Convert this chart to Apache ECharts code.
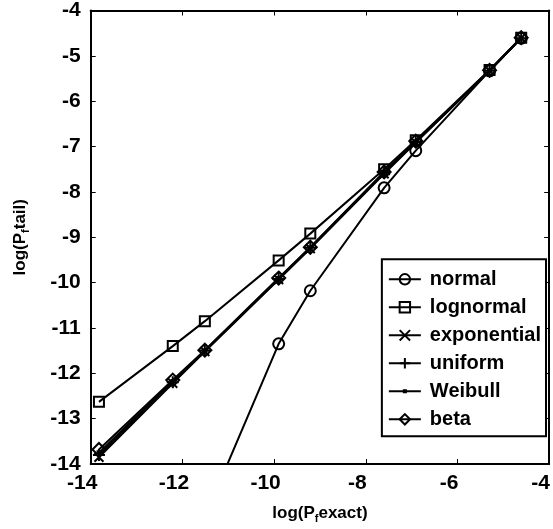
<!DOCTYPE html>
<html>
<head>
<meta charset="utf-8">
<script src="https://cdn.jsdelivr.net/npm/echarts@6/dist/echarts.min.js"></script>
<style>
    html, body { margin: 0; padding: 0; background: #fff; }
    #chart { width: 553px; height: 529px; }
</style>
</head>
<body>
<div id="chart"></div>
<script>
// ---------------------- 数据 ----------------------
const pfExact = [-13.82, -12.21, -11.51, -9.90, -9.21, -7.60, -6.91, -5.30, -4.61];
const normalVals      = [null, null, -15.17, -11.35, -10.18, -7.91, -7.09, -5.33, -4.61];
const lognormalVals   = [-12.63, -11.40, -10.85, -9.51, -8.92, -7.50, -6.86, -5.31, -4.60];
const exponentialVals = [-13.85, -12.22, -11.52, -9.93, -9.25, -7.60, -6.91, -5.33, -4.61];
const uniformVals     = [-13.80, -12.20, -11.50, -9.92, -9.23, -7.58, -6.90, -5.33, -4.61];
const weibullVals     = [-13.75, -12.18, -11.50, -9.91, -9.23, -7.57, -6.89, -5.33, -4.61];
const betaVals        = [-13.68, -12.15, -11.49, -9.90, -9.22, -7.56, -6.88, -5.32, -4.60];
const xTicks = [-14, -12, -10, -8, -6, -4];
const yTicks = [-14, -13, -12, -11, -10, -9, -8, -7, -6, -5, -4];

const FONT = "'Liberation Sans', Arial, sans-serif";

// 小圆点：两个空的 moveTo 撑大包围盒，让点在图例里也保持很小
const DOT = 'path://M0,0L0,0M10,10L10,10M4,4L6,4L6,6L4,6Z';

function pairs(vals) {
    return pfExact.map((x, i) => [x, vals[i]]);
}

// 每条曲线的样式
function makeSeries(name, vals, symbol, size, filled) {
    return {
        name: name,
        type: 'line',
        data: pairs(vals),
        symbol: symbol,
        symbolSize: size,
        showAllSymbol: true,
        clip: true,
        lineStyle: { color: '#000', width: 2 },
        itemStyle: {
            color: filled ? '#000' : 'rgba(0,0,0,0)',
            borderColor: '#000',
            borderWidth: 2
        },
        emphasis: { disabled: true }
    };
}

const chart = echarts.init(document.getElementById('chart'));

const subRich = {
    sub: { fontSize: 11, fontWeight: 'bold', fontFamily: FONT, padding: [11, 0, 0, 0] }
};

chart.setOption({
    animation: false,
    backgroundColor: '#fff',
    grid: { left: 90.7, top: 9.3, right: 1, bottom: 57.3 },
    xAxis: [
        {
            type: 'value', min: -14, max: -4, interval: 2,
            name: 'log(P{sub|f}exact)',
            nameLocation: 'middle', nameGap: 38,
            nameTextStyle: { fontSize: 17, fontWeight: 'bold', fontFamily: FONT, color: '#000', rich: subRich },
            axisLine: { lineStyle: { color: '#000', width: 2 } },
            axisTick: { inside: true, length: 5, lineStyle: { color: '#000', width: 1 } },
            axisLabel: {
                fontSize: 21, fontWeight: 'bold', fontFamily: FONT, color: '#000',
                margin: 9, padding: [0, 17, 0, 0],
                formatter: v => xTicks.includes(v) ? String(v) : ''
            },
            splitLine: { show: false }
        },
        {
            type: 'value', min: -14, max: -4, interval: 2, position: 'top',
            axisLine: { lineStyle: { color: '#000', width: 2 } },
            axisTick: { inside: true, length: 5, lineStyle: { color: '#000', width: 1 } },
            axisLabel: { show: false },
            splitLine: { show: false }
        }
    ],
    yAxis: [
        {
            type: 'value', min: -14, max: -4, interval: 1,
            name: 'log(P{sub|f}tail)',
            nameLocation: 'middle', nameGap: 59, nameRotate: 90,
            nameTextStyle: { fontSize: 17, fontWeight: 'bold', fontFamily: FONT, color: '#000', rich: subRich },
            axisLine: { lineStyle: { color: '#000', width: 2 } },
            axisTick: { inside: true, length: 5, lineStyle: { color: '#000', width: 1 } },
            axisLabel: {
                fontSize: 21, fontWeight: 'bold', fontFamily: FONT, color: '#000', margin: 10,
                formatter: v => yTicks.includes(v) ? String(v) : ''
            },
            splitLine: { show: false }
        },
        {
            type: 'value', min: -14, max: -4, interval: 1, position: 'right',
            axisLine: { lineStyle: { color: '#000', width: 2 } },
            axisTick: { inside: true, length: 5, lineStyle: { color: '#000', width: 1 } },
            axisLabel: { show: false },
            splitLine: { show: false }
        }
    ],
    legend: {
        orient: 'vertical',
        right: 7,
        top: 259.3,
        backgroundColor: '#fff',
        borderColor: '#000',
        borderWidth: 2,
        borderRadius: 0,
        padding: [10, 5, 7, 6],
        itemWidth: 32,
        itemHeight: 13,
        itemGap: 8,
        textStyle: { fontSize: 20, fontWeight: 'bold', fontFamily: FONT, color: '#000', lineHeight: 20, padding: [0, 0, 0, 4] },
        data: ['normal', 'lognormal', 'exponential', 'uniform', 'Weibull', 'beta']
    },
    series: [
        makeSeries('normal', normalVals, 'circle', 11, false),
        makeSeries('lognormal', lognormalVals, 'rect', 10, false),
        makeSeries('exponential', exponentialVals, 'path://M0,0L10,10M10,0L0,10', 9, true),
        makeSeries('uniform', uniformVals, 'path://M5,0L5,10M0,5L10,5', 12, true),
        makeSeries('Weibull', weibullVals, DOT, 14, true),
        makeSeries('beta', betaVals, 'diamond', 13, false)
    ]
});
</script>
</body>
</html>
